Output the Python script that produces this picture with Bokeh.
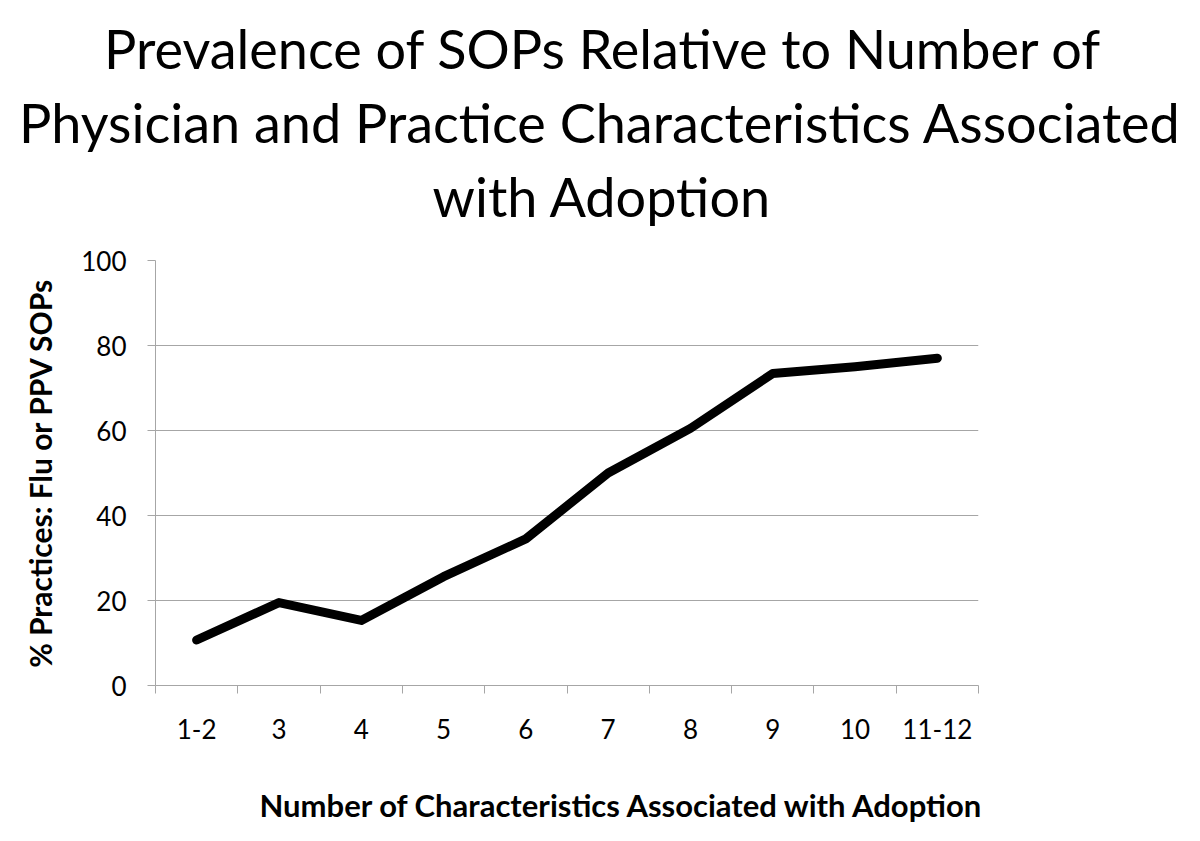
from bokeh.plotting import figure
from bokeh.models import (FactorRange, Range1d, LinearAxis, CategoricalAxis,
                          FixedTicker, Title)
from bokeh.embed import file_html
from bokeh.resources import INLINE

# ---- data ----
categories = ["1-2", "3", "4", "5", "6", "7", "8", "9", "10", "11-12"]
pct_sops = [10.7, 19.5, 15.3, 25.6, 34.5, 50.0, 60.5, 73.4, 75.0, 77.0]
y_ticks = [0, 20, 40, 60, 80, 100]
title_lines = ["Prevalence of SOPs Relative to Number of",
               "Physician and Practice Characteristics Associated",
               "with Adoption"]
x_label = "Number of Characteristics Associated with Adoption"
y_label = "% Practices: Flu or PPV SOPs"

GRAY = "#a6a6a6"
FONT = "Lato"
W, H = 1200, 835
FL, FT, FR, FB = 155, 260, 978, 685

p = figure(width=W, height=H, output_backend="svg", toolbar_location=None,
           x_range=FactorRange(factors=categories, range_padding=0),
           y_range=Range1d(0, 100), x_axis_location=None, title_location=None,
           min_border_left=FL, min_border_right=W - FR,
           min_border_top=FT, min_border_bottom=H - FB)
p.outline_line_color = None

for g in p.grid:
    if g.dimension == 0:
        g.visible = False
    else:
        g.grid_line_color = GRAY
        g.grid_line_width = 1
        g.ticker = FixedTicker(ticks=y_ticks)

ya = p.yaxis[0]
ya.ticker = FixedTicker(ticks=y_ticks)
ya.axis_line_color = GRAY
ya.major_tick_line_color = GRAY
ya.major_tick_in = 0
ya.major_tick_out = 8
ya.minor_tick_line_color = None
ya.major_label_text_font = FONT
ya.major_label_text_font_size = "26px"
ya.major_label_text_color = "black"
ya.major_label_standoff = 21
ya.axis_label = y_label
ya.axis_label_text_font = FONT
ya.axis_label_text_font_style = "bold"
ya.axis_label_text_font_size = "30px"
ya.axis_label_text_color = "black"
ya.axis_label_standoff = 20


def spacer_axis(size):
    """An invisible axis used only to reserve `size` pixels of space."""
    return LinearAxis(ticker=FixedTicker(ticks=[0]),
                      major_label_overrides={0: ""},
                      major_label_text_font_size="1px",
                      major_label_standoff=0,
                      major_tick_in=0, major_tick_out=size,
                      major_tick_line_color=None, axis_line_color=None,
                      minor_tick_line_color=None)


# tick marks at category boundaries (synthetic coordinates 0..N)
edges = list(range(len(categories) + 1))
tick_axis = LinearAxis(ticker=FixedTicker(ticks=edges),
                       major_label_overrides={e: "" for e in edges},
                       major_label_text_font_size="1px",
                       major_label_standoff=0,
                       major_tick_in=0, major_tick_out=8,
                       major_tick_line_color=GRAY, axis_line_color=GRAY,
                       minor_tick_line_color=None)
p.add_layout(tick_axis, "below")
cat_axis = CategoricalAxis(axis_line_color=None, major_tick_line_color=None,
                           major_label_text_font=FONT,
                           major_label_text_font_size="26px",
                           major_label_text_color="black",
                           major_label_standoff=19)
p.add_layout(cat_axis, "below")

p.line(x=categories, y=pct_sops, line_width=9, line_color="black",
       line_cap="round", line_join="round")

# x-axis title below the category labels
p.add_layout(spacer_axis(37), "below")
p.add_layout(Title(text=x_label, align="left", offset=104,
                   text_font=FONT, text_font_style="bold",
                   text_font_size="31px", text_color="black",
                   standoff=10), "below")

# chart title lines, nearest to the frame first
p.add_layout(spacer_axis(28), "above")
title_offsets = [-51.5, -136.5, 277]
for txt, off in reversed(list(zip(title_lines, title_offsets))):
    p.add_layout(Title(text=txt, align="left", offset=off,
                       text_font=FONT, text_font_style="normal",
                       text_font_size="54px", text_color="black",
                       standoff=7), "above")

open("out.html", "w").write(file_html(p, INLINE))
